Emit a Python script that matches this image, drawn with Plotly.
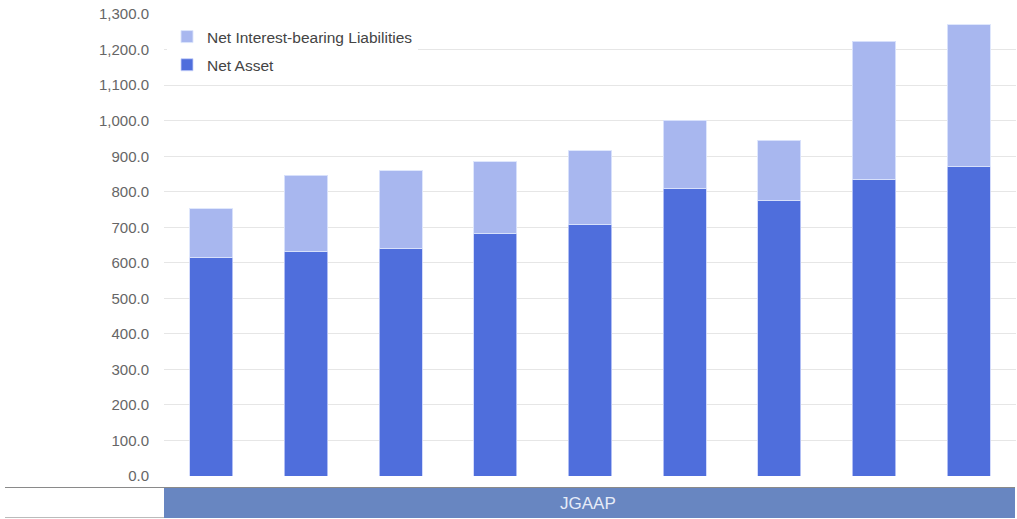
import plotly.graph_objects as go

periods = ["P1", "P2", "P3", "P4", "P5", "P6", "P7", "P8", "P9"]
net_asset = [614, 631, 640, 683, 709, 808, 775, 834, 870]
net_liabilities = [138, 215, 219, 202, 206, 193, 170, 390, 400]
band_label = "JGAAP"

DARK = "#4f6edc"
LIGHT = "#a8b7ef"

fig = go.Figure()
fig.add_trace(go.Bar(
    x=periods, y=net_asset, name="Net Asset",
    marker=dict(color=DARK, line=dict(color="rgba(200,210,250,0.8)", width=1)),
    legendgroup="a", legendrank=2,
))
fig.add_trace(go.Bar(
    x=periods, y=net_liabilities, name="Net Interest-bearing Liabilities",
    marker=dict(color=LIGHT, line=dict(color="rgba(220,228,252,0.9)", width=1)),
    legendgroup="b", legendrank=1,
))

W, H = 1017, 519
# target window pixels of plot area
L, R, T, B = 164, 1016, 14, 476
ml, mt = L, T
mr = W - R
mb = H - B
ph = B - T
pw = R - L

def py(pix):
    return 1 - (pix - T) / ph

def px(pix):
    return (pix - L) / pw

fig.update_layout(
    width=W, height=H,
    margin=dict(l=ml, r=mr, t=mt, b=mb),
    barmode="stack",
    bargap=0.545,
    plot_bgcolor="white",
    paper_bgcolor="white",
    font=dict(family="Liberation Sans, Arial, sans-serif", size=15, color="#666666"),
    showlegend=True,
    legend=dict(
        x=px(167), y=py(20), xanchor="left", yanchor="top",
        bgcolor="white",
        font=dict(size=15.5, color="#444444"),
        traceorder="grouped",
        tracegroupgap=5,
        itemwidth=30,
    ),
    xaxis=dict(showticklabels=False, showgrid=False, zeroline=False, showline=False, ticks=""),
    yaxis=dict(
        range=[0, 1300.5], tickmode="array",
        tickvals=list(range(0, 1301, 100)), tickformat=",.1f",
        showgrid=True, gridcolor="#e6e6e6", gridwidth=1,
        zeroline=False, showline=False, ticks="",
        ticklabelstandoff=14,
        ticklabeloverflow="allow",
        tickfont=dict(size=15, color="#666666"),
    ),
    shapes=[
        dict(type="rect", xref="paper", yref="paper",
             x0=0, x1=px(1015), y0=py(518), y1=py(488),
             fillcolor="#6886c1", line=dict(width=0), layer="above"),
        dict(type="line", xref="paper", yref="paper",
             x0=px(5), x1=px(1015), y0=py(487.5), y1=py(487.5),
             line=dict(color="#8a8a8a", width=1.2)),
        dict(type="line", xref="paper", yref="paper",
             x0=px(5), x1=0, y0=py(517.5), y1=py(517.5),
             line=dict(color="#bbbbbb", width=1)),
    ],
    annotations=[
        dict(text=band_label, xref="paper", yref="paper",
             x=px(588), y=py(503), xanchor="center", yanchor="middle",
             showarrow=False,
             font=dict(size=17, color="#e6ecf8")),
    ],
)

fig.write_html(
    "out.html",
    config={"displayModeBar": False},
    post_script="document.body.style.margin='0';document.body.style.overflow='hidden';",
)
